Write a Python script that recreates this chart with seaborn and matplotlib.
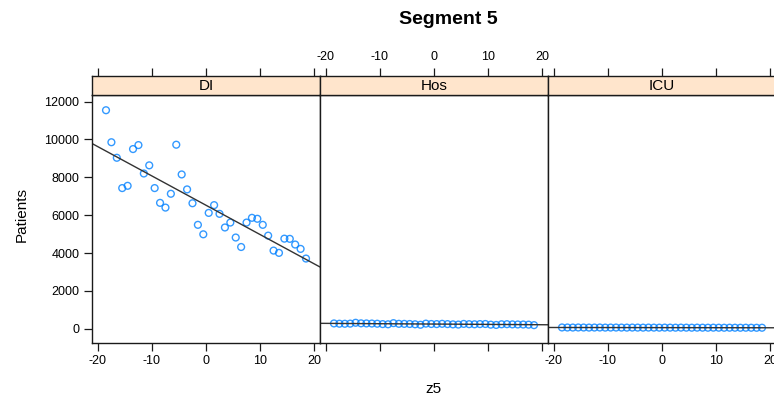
import numpy as np
import pandas as pd
import matplotlib
matplotlib.use("Agg")
import matplotlib.pyplot as plt
import seaborn as sns

sns.set_style("white")
plt.rcParams["font.family"] = ["Liberation Sans", "DejaVu Sans"]
plt.rcParams["axes.unicode_minus"] = False
for key in ("text.color", "axes.labelcolor", "xtick.color", "ytick.color"):
    plt.rcParams[key] = "black"

# ---- data -------------------------------------------------------------
z5 = [-18.5, -17.5, -16.5, -15.5, -14.5, -13.5, -12.5, -11.5, -10.5, -9.5,
      -8.5, -7.5, -6.5, -5.5, -4.5, -3.5, -2.5, -1.5, -0.5, 0.5,
      1.5, 2.5, 3.5, 4.5, 5.5, 6.5, 7.5, 8.5, 9.5, 10.5,
      11.5, 12.5, 13.5, 14.5, 15.5, 16.5, 17.5, 18.5]

di = [11540, 9850, 9030, 7430, 7550, 9490, 9700, 8200, 8630, 7430,
      6650, 6400, 7130, 9720, 8150, 7360, 6630, 5490, 4990, 6120,
      6530, 6070, 5350, 5610, 4820, 4320, 5610, 5860, 5810, 5490,
      4920, 4130, 4010, 4760, 4750, 4450, 4220, 3710]

hos = [285, 270, 268, 275, 320, 290, 285, 280, 270, 250,
       240, 300, 265, 262, 255, 240, 215, 275, 255, 250,
       265, 250, 235, 225, 260, 245, 240, 250, 255, 220,
       205, 240, 245, 235, 230, 228, 220, 195]

icu = [72, 70, 68, 71, 69, 66, 68, 70, 65, 67,
       68, 66, 64, 67, 65, 63, 66, 64, 62, 65,
       63, 61, 64, 62, 60, 63, 61, 59, 62, 60,
       58, 60, 59, 57, 59, 58, 56, 58]

panels = ["DI", "Hos", "ICU"]
x_ticks = [-20, -10, 0, 10, 20]
y_ticks = [0, 2000, 4000, 6000, 8000, 10000, 12000]

df = pd.DataFrame({
    "z5": z5 * 3,
    "Patients": di + hos + icu,
    "type": sum([[p] * len(z5) for p in panels], []),
})

# ---- limits with 7% padding on each side ------------------------------
def padded(lo, hi, frac=0.07):
    r = hi - lo
    return lo - frac * r, hi + frac * r

xlim = padded(min(z5), max(z5))
ylim = padded(df["Patients"].min(), df["Patients"].max())

# ---- figure -----------------------------------------------------------
W, H = 774, 400
fig = plt.figure(figsize=(W / 100, H / 100), dpi=100)

ink = "#1a1a1a"
point_col = "#0080ff"
strip_col = "#ffe5cc"

panel_left = [92, 320, 548]
panel_w = 228
panel_top, panel_bot = 95, 343
strip_top = 76

def frac_box(x0, y_top, w, h):
    return [x0 / W, (H - y_top - h) / H, w / W, h / H]

for i, name in enumerate(panels):
    ax = fig.add_axes(frac_box(panel_left[i], panel_top, panel_w, panel_bot - panel_top))
    sub = df[df["type"] == name]
    ax.set_xlim(xlim)
    ax.set_ylim(ylim)
    sns.regplot(
        data=sub, x="z5", y="Patients", ax=ax, ci=None, truncate=False,
        scatter_kws=dict(s=24, facecolors="none", edgecolors=point_col, linewidths=1.0),
        line_kws=dict(color="#333333", lw=1.0),
    )
    ax.set_xlim(xlim)
    ax.set_ylim(ylim)
    ax.set_xlabel("")
    ax.set_ylabel("")
    for sp in ax.spines.values():
        sp.set_color(ink)
        sp.set_linewidth(1.0)
    ax.set_xticks(x_ticks)
    ax.tick_params(axis="x", direction="out", length=6, width=0.9, color=ink,
                   labelsize=9, pad=3, bottom=True, top=False,
                   labelbottom=(name != "Hos"))
    if i == 0:
        ax.set_yticks(y_ticks)
        ax.set_yticklabels([str(v) for v in y_ticks])
        ax.tick_params(axis="y", direction="out", length=6, width=0.9, color=ink,
                       labelsize=9, pad=3, left=True, right=False)
    else:
        ax.set_yticks([])

    # strip with panel name, top ticks drawn above it
    sax = fig.add_axes(frac_box(panel_left[i], strip_top, panel_w, panel_top - strip_top))
    sax.set_facecolor(strip_col)
    sax.set_xlim(xlim)
    sax.set_ylim(0, 1)
    sax.set_yticks([])
    sax.set_xticks(x_ticks)
    sax.tick_params(axis="x", direction="out", length=6, width=0.9, color=ink,
                    labelsize=9, pad=3, bottom=False, top=True,
                    labelbottom=False, labeltop=(name == "Hos"))
    for sp in sax.spines.values():
        sp.set_color(ink)
        sp.set_linewidth(1.0)
    sax.text(0.5, 0.45, name, transform=sax.transAxes, ha="center", va="center",
             fontsize=11, color="black")

fig.text(448 / W, 1 - 20 / H, "Segment 5", ha="center", va="center",
         fontsize=14, fontweight="bold")
fig.text(433 / W, 1 - 389 / H, "z5", ha="center", va="center", fontsize=11)
fig.text(22 / W, 1 - 215 / H, "Patients", ha="center", va="center",
         rotation=90, fontsize=11)

fig.savefig("out.png", dpi=100)
